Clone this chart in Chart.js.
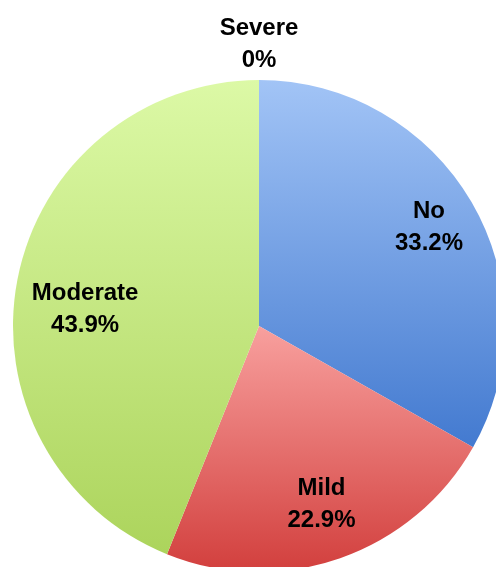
<!DOCTYPE html>
<html>
<head>
<meta charset="utf-8">
<script src="https://cdn.jsdelivr.net/npm/chart.js@4"></script>
<style>
  html, body { margin: 0; padding: 0; background: #fff; overflow: hidden; }
  #pie { display: block; }
</style>
</head>
<body>
<canvas id="pie" width="496" height="567"></canvas>
<script>
const categories = ['No', 'Mild', 'Moderate', 'Severe'];
const shares = [33.2, 22.9, 43.9, 0];
const shareLabels = ['33.2%', '22.9%', '43.9%', '0%'];

// light (top) / dark (bottom) colour per slice
const lightColors = ['#a2c4f6', '#f8a09e', '#dcf9a6', '#b0b0b0'];
const darkColors = ['#437ad0', '#d23f3d', '#acd45c', '#808080'];

const PIE_RADIUS = 246;

// vertical extent of a slice, used for its gradient
function sliceExtent(cy, r, a0, a1) {
    let top = cy, bottom = cy;
    [a0, a1].forEach(a => {
        const y = cy + Math.sin(a) * r;
        top = Math.min(top, y);
        bottom = Math.max(bottom, y);
    });
    // angle -PI/2 is the top of the circle, PI/2 the bottom
    [-Math.PI / 2, Math.PI / 2, 3 * Math.PI / 2].forEach(a => {
        if (a >= a0 && a <= a1) {
            const y = cy + Math.sin(a) * r;
            top = Math.min(top, y);
            bottom = Math.max(bottom, y);
        }
    });
    return { top, bottom };
}

function sliceFill(context) {
    const i = context.dataIndex;
    const chart = context.chart;
    const area = chart.chartArea;
    if (!area) return darkColors[i];
    const cy = (area.top + area.bottom) / 2;
    const total = shares.reduce((a, b) => a + b, 0);
    let start = -Math.PI / 2;
    for (let k = 0; k < i; k++) start += shares[k] / total * Math.PI * 2;
    const end = start + shares[i] / total * Math.PI * 2;
    const ext = sliceExtent(cy, PIE_RADIUS, start, end);
    if (ext.bottom - ext.top < 1) return darkColors[i];
    const g = chart.ctx.createLinearGradient(0, ext.top, 0, ext.bottom);
    g.addColorStop(0, lightColors[i]);
    g.addColorStop(1, darkColors[i]);
    return g;
}

// where each label sits along the slice's middle angle (fraction of radius, turn in degrees)
const labelPlacement = [
    { f: 0.80, turn: 0 },
    { f: 0.77, turn: 0 },
    { f: 0.71, turn: -5.6 },
    { f: 1.145, turn: 0 }
];

const sliceLabels = {
    id: 'sliceLabels',
    afterDatasetsDraw(chart) {
        const ctx = chart.ctx;
        const arcs = chart.getDatasetMeta(0).data;
        ctx.save();
        ctx.font = 'bold 24px "Liberation Sans", Arial, sans-serif';
        ctx.fillStyle = '#000';
        ctx.textAlign = 'center';
        ctx.textBaseline = 'middle';
        arcs.forEach((arc, i) => {
            const p = labelPlacement[i];
            const mid = (arc.startAngle + arc.endAngle) / 2 + p.turn * Math.PI / 180;
            const x = arc.x + Math.cos(mid) * arc.outerRadius * p.f;
            const y = arc.y + Math.sin(mid) * arc.outerRadius * p.f;
            ctx.fillText(categories[i], x, y - 16);
            ctx.fillText(shareLabels[i], x, y + 16);
        });
        ctx.restore();
    }
};

new Chart(document.getElementById('pie').getContext('2d'), {
    type: 'pie',
    data: {
        labels: categories,
        datasets: [{
            data: shares,
            backgroundColor: sliceFill,
            borderWidth: 0,
            clip: false
        }]
    },
    options: {
        responsive: false,
        animation: false,
        radius: PIE_RADIUS,
        layout: { padding: { left: 22, right: 0, top: 85, bottom: 0 } },
        plugins: {
            legend: { display: false },
            tooltip: { enabled: false }
        }
    },
    plugins: [sliceLabels]
});
</script>
</body>
</html>
